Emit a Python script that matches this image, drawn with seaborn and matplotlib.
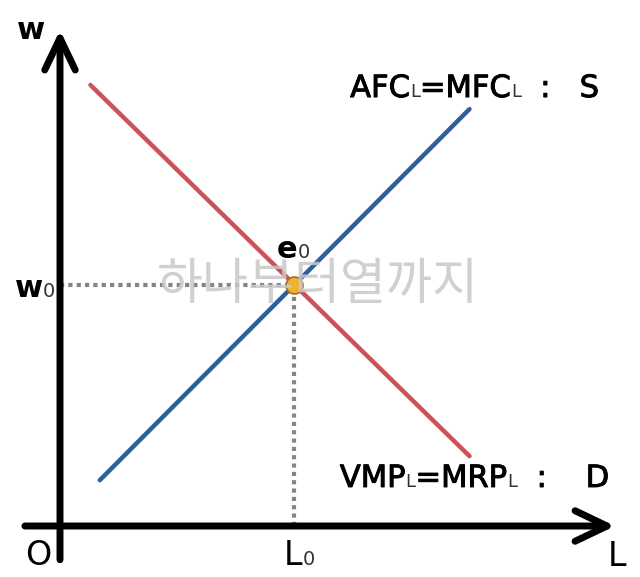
import numpy as np
import pandas as pd
import seaborn as sns
import matplotlib.pyplot as plt
import matplotlib.patheffects as pe

# line end points, in (L, w) units
demand_L = [0.65, 8.75]
demand_w = [9.15, 1.45]
supply_L = [0.85, 8.75]
supply_w = [0.95, 8.65]

# equilibrium
L0 = 5.0
w0 = 5.0

red = "#cd5256"
blue = "#2f5e9c"
gray = "#858585"

sns.set_theme(style="white")
plt.rcParams["font.family"] = ["DejaVu Sans"]

fig = plt.figure(figsize=(6.4, 5.77), dpi=100)
ax = fig.add_axes([0, 0, 1, 1])
ax.set_xlim(-1.282, 12.393)
ax.set_ylim(-1.058, 10.913)
ax.axis("off")

demand = pd.DataFrame({"L": demand_L, "w": demand_w})
supply = pd.DataFrame({"L": supply_L, "w": supply_w})
sns.lineplot(data=demand, x="L", y="w", color=red, lw=3.2, ax=ax, zorder=3)
sns.lineplot(data=supply, x="L", y="w", color=blue, lw=3.2, ax=ax, zorder=3)

# dotted guides to the axes
ax.plot([0, L0], [w0, w0], color=gray, lw=3, ls=(0, (1, 1)), dash_capstyle="butt", zorder=2)
ax.plot([L0, L0], [0, w0], color=gray, lw=3, ls=(0, (1, 1)), dash_capstyle="butt", zorder=2)

sns.scatterplot(x=[L0], y=[w0], s=150, color="#f0b12c", edgecolor="#9c7325",
                linewidth=1.2, ax=ax, zorder=6, legend=False)

# axes with arrow heads
arrow = dict(arrowstyle="->,head_length=1.15,head_width=0.55", lw=5, color="black",
             shrinkA=0, shrinkB=0, mutation_scale=20, capstyle="round", joinstyle="round")
ax.annotate("", xy=(11.86, 0), xytext=(-0.75, 0), arrowprops=arrow, zorder=4)
ax.annotate("", xy=(0, 10.29), xytext=(0, -0.7), arrowprops=arrow, zorder=4)

heavy = [pe.withStroke(linewidth=0.7, foreground="black")]


def label(x, y, parts, size=22, small=13, weight="normal", effects=None):
    prev = None
    for text, sub in parts:
        kw = dict(fontsize=small if sub else size,
                  fontweight="normal" if sub else weight,
                  color="#333333" if sub else "black",
                  va="baseline", ha="left", zorder=7)
        if prev is None:
            prev = ax.annotate(text, xy=(x, y), xycoords="data", **kw)
        else:
            prev = ax.annotate(text, xy=(1, y), xycoords=(prev, "data"), **kw)
        if effects and not sub:
            prev.set_path_effects(effects)


label(6.2, 8.9, [("AFC", 0), ("L", 1), ("=MFC", 0), ("L", 1), ("  :   S", 0)], effects=heavy)
label(5.98, 0.81, [("VMP", 0), ("L", 1), ("=MRP", 0), ("L", 1), ("  :    D", 0)], effects=heavy)
label(-0.92, 10.1, [("w", 0)], size=22, weight="bold")
label(-0.96, 4.75, [("w", 0), ("0", 1)], size=22, small=14, weight="bold")
label(4.64, 5.56, [("e", 0), ("0", 1)], size=22, small=14, weight="bold")
label(-0.75, -0.81, [("O", 0)], size=24)
label(4.79, -0.81, [("L", 0), ("0", 1)], size=24, small=14)
label(11.71, -0.83, [("L", 0)], size=24)

# watermark
ax.text(5.51, 5.0, "하나부터열까지", fontsize=36, color="#c8c8c8", alpha=0.85,
        fontfamily=["Noto Sans CJK KR"], fontweight="light",
        ha="center", va="center", zorder=8)

fig.savefig("out.png", dpi=100)
